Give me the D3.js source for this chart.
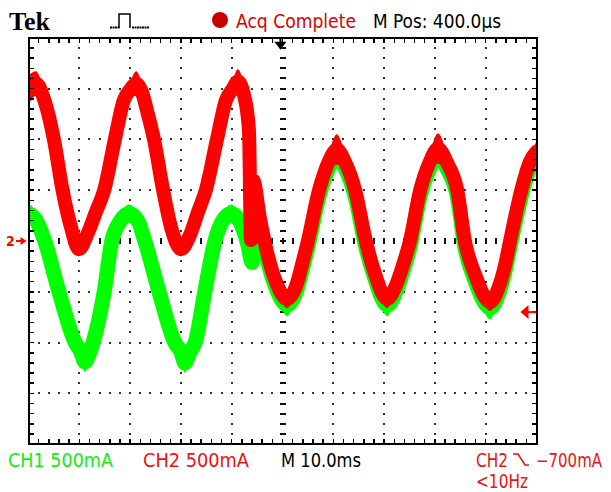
<!DOCTYPE html>
<html><head><meta charset="utf-8">
<script src="https://cdn.jsdelivr.net/npm/d3@7"></script>
<style>html,body{margin:0;padding:0;background:#fff;}svg{display:block;}</style>
</head><body>
<svg id="c" width="611" height="492"></svg>
<script>
// ---------- data ----------
const timeRange = [0, 100];          // ms (10 ms/div, 10 div)
const levelRange = [-2000, 2000];    // mA (500 mA/div, 8 div)
const minorTime = 2, majorTime = 10, minorLevel = 100, majorLevel = 500;
const triggerTime = 49.6;            // ms
const triggerLevel = -700;           // mA

// CH2 (red) trace: time (ms), level (mA), noise half-band (mA)
const ch2Time   = [0,1.5,3.1,5.0,6.7,8.4,9.9,11.7,13.3,14.9,17.0,18.8,20.0,21.2,22.3,23.3,24.7,26.5,28.2,30.0,31.8,33.4,34.9,37.1,38.9,40.1,41.2,42.4,43.4,43.8,44.2,45.6,47.1,48.7,50.9,52.7,53.8,55.0,57.2,59.1,60.7,62.3,64.3,66.4,68.0,70.6,72.3,73.7,75.1,77.1,79.0,80.6,82.4,84.4,85.9,87.9,90.9,92.6,93.8,94.8,97.0,98.7,100];
const ch2Level  = [1490,1550,1390,1000,500,130,-80,80,290,500,1000,1390,1490,1550,1470,1290,1000,500,110,-80,60,290,500,1000,1390,1490,1570,1440,1090,10,600,210,-140,-400,-570,-440,-240,0,500,780,900,780,500,0,-290,-570,-440,-240,0,500,780,910,770,500,0,-330,-600,-450,-240,0,500,780,880];
const ch2Spread = [140,120,60,20,0,20,70,30,0,0,20,60,80,120,80,40,0,0,20,70,30,0,0,20,60,80,120,80,40,0,40,0,0,20,90,30,0,0,0,80,150,80,0,0,20,90,30,0,0,0,80,150,80,0,0,20,90,30,0,0,0,60,100];

// CH1 (green) trace
const ch1Time   = [0,1.3,3.2,6.0,9.2,10.3,11.1,12.1,12.7,14.9,16.4,18.0,19.8,21.6,22.9,25.7,28.8,30.0,30.8,31.8,32.8,34.7,36.7,38.1,39.9,41.6,43.2,44.0,44.4,45.6,47.1,48.7,50.9,52.7,53.8,55.0,57.2,59.1,60.7,62.3,64.3,66.4,68.0,70.6,72.3,73.7,75.1,77.1,79.0,80.6,82.4,84.4,85.9,87.9,90.9,92.6,93.8,94.8,97.0,98.7,100];
const ch1Level  = [270,220,0,-500,-1000,-1090,-1190,-1090,-1000,-500,0,190,270,190,0,-500,-1000,-1090,-1200,-1090,-1000,-500,0,190,270,190,-40,-210,350,150,-200,-460,-630,-500,-300,-60,440,720,840,720,440,-60,-340,-630,-500,-300,-60,440,720,850,710,440,-60,-390,-660,-510,-300,-60,440,720,820];
const ch1Spread = [100,80,20,0,0,50,100,50,20,0,20,60,90,60,20,0,0,50,100,50,20,0,20,60,90,60,60,60,40,0,0,20,110,30,0,0,0,80,130,80,0,0,20,110,30,0,0,0,80,130,80,0,0,20,110,30,0,0,0,60,100];

const headerText = {brand: "Tek", status: "Acq Complete", pos: "M Pos: 400.0\u00b5s"};
const footerText = {ch1: "CH1  500mA", ch2: "CH2  500mA", time: "M 10.0ms", trigSrc: "CH2", trigLvl: "\u2212700mA", freq: "<10Hz"};

// ---------- drawing ----------
const svg = d3.select('#c');
const L = 28.5, R = 536.5, T = 37.8, B = 444.2;
const x = d3.scaleLinear().domain(timeRange).range([L, R]);
const y = d3.scaleLinear().domain(levelRange).range([B, T]);
const narrow = '"Liberation Sans Narrow","Arial Narrow","DejaVu Sans Condensed",sans-serif';
const RED = '#ff0000', GREEN = '#00ff00', TXTRED = '#ee1111', TXTGREEN = '#11ee11';

const minorTs = d3.range(timeRange[0], timeRange[1] + 1e-6, minorTime);
const minorLs = d3.range(levelRange[0], levelRange[1] + 1e-6, minorLevel);
const majorTs = d3.range(timeRange[0] + majorTime, timeRange[1], majorTime).filter(t => t !== 50);
const majorLs = d3.range(levelRange[0] + majorLevel, levelRange[1], majorLevel).filter(v => v !== 0);
const g = svg.append('g').attr('shape-rendering', 'crispEdges');
const dots = [];
majorTs.forEach(t => minorLs.slice(1, -1).forEach(v => dots.push([t, v])));
majorLs.forEach(v => minorTs.slice(1, -1).forEach(t => dots.push([t, v])));
g.selectAll('rect.dot').data(dots).join('rect').attr('class', 'dot')
  .attr('x', d => Math.round(x(d[0])) - 1).attr('y', d => Math.round(y(d[1])) - 1)
  .attr('width', 2).attr('height', 2).attr('fill', '#333');

g.selectAll('rect.vt').data(minorLs.slice(1, -1)).join('rect').attr('class', 'vt')
  .attr('x', Math.round(x(50)) - 3).attr('y', d => Math.round(y(d)) - 1)
  .attr('width', 6).attr('height', 2).attr('fill', '#111');
g.selectAll('rect.ht').data(minorTs.slice(1, -1)).join('rect').attr('class', 'ht')
  .attr('x', d => Math.round(x(d)) - 1).attr('y', Math.round(y(0)) - 3)
  .attr('width', 2).attr('height', 6).attr('fill', '#111');

function drawTrace(times, levels, spreads, color, width) {
  const pts = times.map((t, i) => ({t, v: levels[i], s: spreads[i]}));
  const area = d3.area().x(d => x(d.t)).y0(d => y(d.v - d.s)).y1(d => y(d.v + d.s)).curve(d3.curveMonotoneX);
  const line = d3.line().x(d => x(d.t)).y(d => y(d.v)).curve(d3.curveMonotoneX);
  const tg = svg.append('g').attr('clip-path', 'url(#clip)');
  tg.append('path').attr('d', area(pts)).attr('fill', color);
  tg.append('path').attr('d', line(pts)).attr('fill', 'none').attr('stroke', color)
    .attr('stroke-width', width).attr('stroke-linejoin', 'round').attr('stroke-linecap', 'round');
}
svg.append('clipPath').attr('id', 'clip').append('rect').attr('x', L).attr('y', T).attr('width', R - L).attr('height', B - T);
drawTrace(ch1Time, ch1Level, ch1Spread, GREEN, 15);
drawTrace(ch2Time, ch2Level, ch2Spread, RED, 14);

const bg = svg.append('g').attr('shape-rendering', 'crispEdges');
bg.append('rect').attr('x', L).attr('y', T).attr('width', R - L).attr('height', B - T)
  .attr('fill', 'none').attr('stroke', '#000').attr('stroke-width', 2);
const tickLen = 5;
bg.selectAll('line.tt').data(minorTs).join('line').attr('class', 'tt')
  .attr('x1', d => x(d)).attr('x2', d => x(d)).attr('y1', T).attr('y2', T + tickLen).attr('stroke', '#000').attr('stroke-width', 1.5);
bg.selectAll('line.bt').data(minorTs).join('line').attr('class', 'bt')
  .attr('x1', d => x(d)).attr('x2', d => x(d)).attr('y1', B).attr('y2', B - tickLen).attr('stroke', '#000').attr('stroke-width', 1.5);
bg.selectAll('line.lt').data(minorLs).join('line').attr('class', 'lt')
  .attr('y1', d => y(d)).attr('y2', d => y(d)).attr('x1', L).attr('x2', L + tickLen).attr('stroke', '#000').attr('stroke-width', 1.5);
bg.selectAll('line.rt').data(minorLs).join('line').attr('class', 'rt')
  .attr('y1', d => y(d)).attr('y2', d => y(d)).attr('x1', R).attr('x2', R - tickLen).attr('stroke', '#000').attr('stroke-width', 1.5);

const tx = x(triggerTime);
svg.append('path').attr('d', `M${tx - 6},${T + 4}L${tx + 6},${T + 4}L${tx},${T + 12}Z`).attr('fill', '#000');
svg.append('line').attr('x1', tx).attr('x2', tx).attr('y1', T).attr('y2', T + 6).attr('stroke', '#000').attr('stroke-width', 2);

const ty = y(triggerLevel);
svg.append('path').attr('d', `M${R - 16},${ty}L${R - 8},${ty - 7}L${R - 8},${ty + 7}Z`).attr('fill', RED);
svg.append('line').attr('x1', R - 9).attr('x2', R).attr('y1', ty).attr('y2', ty).attr('stroke', RED).attr('stroke-width', 2);

const gy = y(0);
svg.append('text').attr('x', 6).attr('y', gy + 5).text('2').attr('fill', RED)
  .attr('font-family', narrow).attr('font-size', 14).attr('font-weight', 'bold');
svg.append('path').attr('d', `M${L - 2},${gy}L${L - 8},${gy - 4}L${L - 8},${gy + 4}Z`).attr('fill', RED);
svg.append('line').attr('x1', 16).attr('x2', L - 7).attr('y1', gy).attr('y2', gy).attr('stroke', RED).attr('stroke-width', 2);

svg.append('text').attr('x', 9).attr('y', 30).text(headerText.brand)
  .attr('font-family', '"Liberation Serif","DejaVu Serif",serif').attr('font-weight', 'bold')
  .attr('font-size', 25).attr('textLength', 41).attr('lengthAdjust', 'spacingAndGlyphs');
const pulseY = 28, pulseTop = 14;
svg.append('path').attr('d', `M119,${pulseY}L119,${pulseTop}L130,${pulseTop}L130,${pulseY}`)
  .attr('fill', 'none').attr('stroke', '#000').attr('stroke-width', 1.5);
const pdots = d3.range(110, 118, 2.5).concat(d3.range(132, 148, 2.5));
svg.selectAll('rect.pd').data(pdots).join('rect').attr('class', 'pd')
  .attr('x', d => d).attr('y', pulseY - 1.5).attr('width', 2).attr('height', 2).attr('fill', '#000');
svg.append('circle').attr('cx', 220).attr('cy', 20).attr('r', 8).attr('fill', '#c80000');
svg.append('text').attr('x', 236).attr('y', 28).text(headerText.status).attr('fill', '#dd0000')
  .attr('font-family', narrow).attr('font-size', 19).attr('textLength', 120).attr('lengthAdjust', 'spacingAndGlyphs');
svg.append('text').attr('x', 373).attr('y', 28).text(headerText.pos).attr('fill', '#000')
  .attr('font-family', narrow).attr('font-size', 19).attr('textLength', 128).attr('lengthAdjust', 'spacingAndGlyphs');

function ft(str, xx, yy, col, len) {
  svg.append('text').attr('x', xx).attr('y', yy).text(str).attr('fill', col)
    .attr('font-family', narrow).attr('font-size', 19).attr('textLength', len).attr('lengthAdjust', 'spacingAndGlyphs');
}
ft(footerText.ch1, 8, 467, TXTGREEN, 105);
ft(footerText.ch2, 143, 467, TXTRED, 106);
ft(footerText.time, 281, 467, '#000', 80);
ft(footerText.trigSrc, 476, 467, TXTRED, 32);
svg.append('path').attr('d', 'M513,454L518,454L525,465L529,465').attr('fill', 'none').attr('stroke', TXTRED).attr('stroke-width', 1.6);
ft(footerText.trigLvl, 536, 467, TXTRED, 66);
ft(footerText.freq, 476, 488, TXTRED, 52);
</script>
</body></html>
